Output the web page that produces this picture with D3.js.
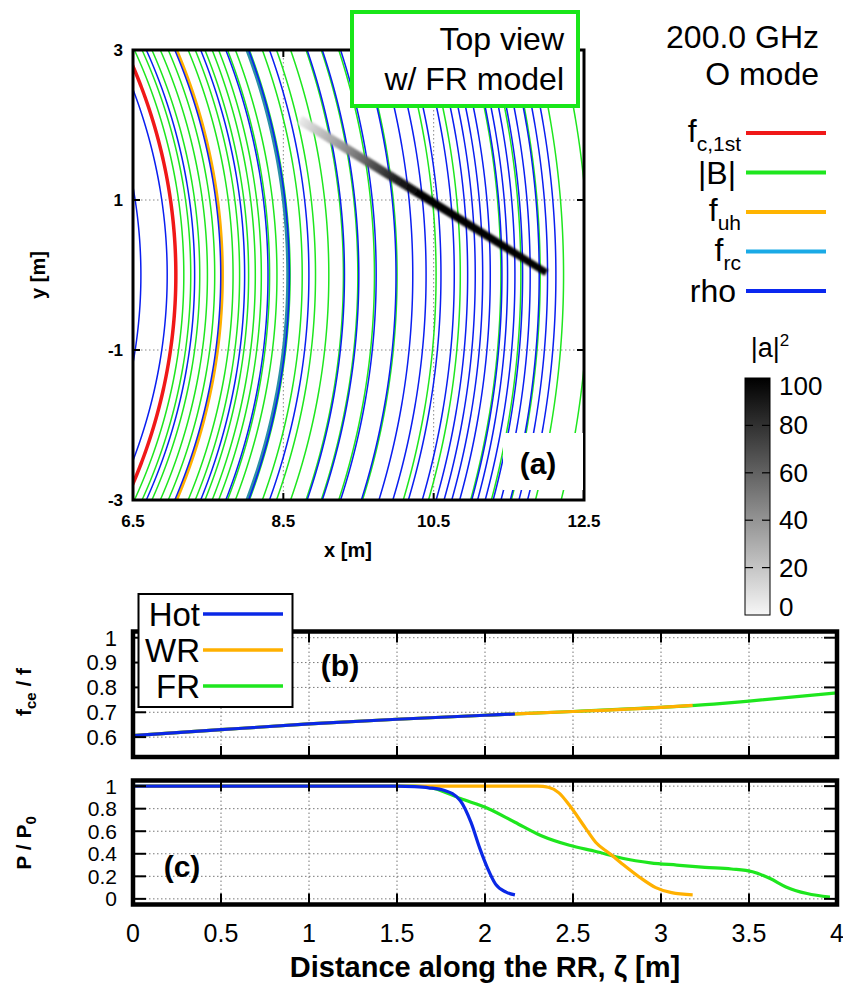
<!DOCTYPE html>
<html><head><meta charset="utf-8">
<script src="https://cdn.jsdelivr.net/npm/d3@7"></script>
<style>body{margin:0;background:#fff}svg{display:block}</style>
</head><body>
<svg id="fig" width="843" height="987"></svg>
<script>
// ---------- Panel (a): top view, contours are circles about the torus axis (radius R in m)
const bContourR = [7.176, 7.268, 7.388, 7.49, 7.587, 7.831, 7.918, 8.038, 8.127, 8.207, 8.317, 8.415,
  8.59, 8.751, 8.928, 9.105, 9.299, 9.491, 9.712, 10.013, 10.532, 10.854, 11.394, 11.66, 11.917, 12.228, 12.56];
const rhoContourR = [6.605, 6.955, 7.32, 7.667, 7.985, 8.296, 8.58, 8.84, 9.313, 9.504, 9.735, 9.999,
  10.222, 10.399, 10.597, 10.774, 10.952, 11.053, 11.152, 11.253, 11.408, 11.483, 11.581, 11.683,
  11.784, 11.904, 12.015, 12.126];
const fc1stR = [7.07];
const fuhR = [7.69];
const frcR = [8.565];
const xTicksA = [6.5, 8.5, 10.5, 12.5];
const yTicksA = [3, 1, -1, -3];

// Ray: launch point and end point (x, y in m), |a|^2 along the path length
const rayLaunch = [12.0, 0.03];
const rayStop = [8.72, 2.07];
const rayZeta = [0, 2.0, 2.4, 2.8, 3.1, 3.4, 3.7, 3.95];
const rayAmp = [100, 100, 88, 66, 48, 32, 18, 4];
const cbTicks = [0, 20, 40, 60, 80, 100];

// Legend of panel (a)
const legendA = [
  {base: "f", sub: "c,1st", color: "#f01818", w: 4},
  {base: "|B|", sub: "", color: "#1ee61e", w: 4},
  {base: "f", sub: "uh", color: "#ffb400", w: 4},
  {base: "f", sub: "rc", color: "#1aaae6", w: 4},
  {base: "rho", sub: "", color: "#0a28f0", w: 4}
];

// ---------- Panel (b): f_ce / f along the ray
const hotZetaB = [0, 0.5, 1.0, 1.5, 2.0, 2.17];
const hotFce   = [0.606, 0.630, 0.653, 0.672, 0.688, 0.693];
const wrZetaB  = [0, 0.5, 1.0, 1.5, 2.0, 2.17, 2.5, 3.0, 3.18];
const wrFce    = [0.606, 0.630, 0.653, 0.672, 0.688, 0.693, 0.703, 0.720, 0.728];
const frZetaB  = [0, 0.5, 1.0, 1.5, 2.0, 2.17, 2.5, 3.0, 3.3, 3.5, 4.0];
const frFce    = [0.606, 0.630, 0.653, 0.672, 0.688, 0.693, 0.703, 0.720, 0.733, 0.745, 0.778];

// ---------- Panel (c): P / P0 along the ray
const hotZetaC = [0, 1.5, 1.6, 1.68, 1.77, 1.86, 1.92, 1.97, 2.015, 2.06, 2.12, 2.17];
const hotP     = [1, 1, 0.995, 0.985, 0.962, 0.87, 0.68, 0.45, 0.27, 0.13, 0.06, 0.035];
const wrZetaC  = [0, 2.3, 2.36, 2.42, 2.48, 2.57, 2.63, 2.71, 2.78, 2.88, 2.97, 3.06, 3.18];
const wrP      = [1, 1, 0.99, 0.94, 0.83, 0.63, 0.5, 0.4, 0.31, 0.19, 0.1, 0.055, 0.035];
const frZetaC  = [0, 1.6, 1.71, 1.86, 2.02, 2.17, 2.32, 2.48, 2.63, 2.78, 2.94, 3.09, 3.25, 3.4, 3.52, 3.62, 3.71, 3.83, 3.96];
const frP      = [1, 1, 0.98, 0.89, 0.80, 0.68, 0.56, 0.475, 0.42, 0.36, 0.32, 0.30, 0.28, 0.265, 0.24, 0.18, 0.106, 0.047, 0.015];

const zetaTicks = [0, 0.5, 1, 1.5, 2, 2.5, 3, 3.5, 4];
const fceTicks = [0.6, 0.7, 0.8, 0.9, 1];
const pTicks = [0, 0.2, 0.4, 0.6, 0.8, 1];
const modelLegend = [
  {name: "Hot", color: "#0a28e6"},
  {name: "WR", color: "#ffb000"},
  {name: "FR", color: "#1ee61e"}
];

const svg = d3.select("#fig");
const defs = svg.append("defs");
const SANS = "'Liberation Sans', Arial, Helvetica, sans-serif";

// ================= Panel (a) =================
const ax = d3.scaleLinear().domain([6.5, 12.5]).range([133, 584]);
const ay = d3.scaleLinear().domain([-3, 3]).range([500, 50]);

defs.append("clipPath").attr("id", "clipA").append("rect")
  .attr("x", 133).attr("y", 50).attr("width", 451).attr("height", 450);

const gA = svg.append("g");
// grid
gA.append("g").selectAll("line").data(xTicksA.slice(1, -1)).join("line")
  .attr("x1", d => ax(d)).attr("x2", d => ax(d)).attr("y1", 50).attr("y2", 500)
  .attr("stroke", "#888").attr("stroke-width", 1).attr("stroke-dasharray", "1.5,2.5");
gA.append("g").selectAll("line").data(yTicksA.slice(1, -1)).join("line")
  .attr("y1", d => ay(d)).attr("y2", d => ay(d)).attr("x1", 133).attr("x2", 584)
  .attr("stroke", "#888").attr("stroke-width", 1).attr("stroke-dasharray", "1.5,2.5");

const arcLine = d3.line().x(d => ax(d[0])).y(d => ay(d[1]));
function arcPoints(R) {
  const pts = [];
  const ym = Math.min(R, 3.2);
  for (let i = 0; i <= 240; i++) {
    const y = -ym + 2 * ym * i / 240;
    pts.push([Math.sqrt(Math.max(R * R - y * y, 0)), y]);
  }
  return pts;
}
const arcs = gA.append("g").attr("clip-path", "url(#clipA)").attr("fill", "none");
function drawArcs(list, color, w) {
  arcs.append("g").selectAll("path").data(list).join("path")
    .attr("d", R => arcLine(arcPoints(R)))
    .attr("stroke", color).attr("stroke-width", w);
}
drawArcs(bContourR, "#1ee61e", 1.5);
drawArcs(fc1stR, "#f01818", 3.5);
drawArcs(fuhR, "#ffb000", 3);
drawArcs(frcR, "#2a90a6", 4);
drawArcs(rhoContourR, "#0a1ef0", 1.5);

// ray (|a|^2 shading along the path)
const gray = d3.scaleLinear().domain([0, 100]).range(["#f6f6f6", "#000000"]);
const p0 = [ax(rayLaunch[0]), ay(rayLaunch[1])];
const p1 = [ax(rayStop[0]), ay(rayStop[1])];
const zMax = rayZeta[rayZeta.length - 1];
const grad = defs.append("linearGradient").attr("id", "rayGrad")
  .attr("gradientUnits", "userSpaceOnUse")
  .attr("x1", p0[0]).attr("y1", p0[1]).attr("x2", p1[0]).attr("y2", p1[1]);
grad.selectAll("stop").data(rayZeta).join("stop")
  .attr("offset", d => d / zMax)
  .attr("stop-color", (d, i) => gray(rayAmp[i]));
defs.append("filter").attr("id", "soft").attr("x", "-10%").attr("y", "-10%").attr("width", "120%").attr("height", "120%")
  .append("feGaussianBlur").attr("stdDeviation", 1.0);
{
  const dx = p1[0] - p0[0], dy = p1[1] - p0[1];
  const L = Math.hypot(dx, dy);
  const nx = -dy / L, ny = dx / L;
  const w0 = 3.6, w1 = 4.6;
  const poly = [
    [p0[0] + nx * w0, p0[1] + ny * w0], [p1[0] + nx * w1, p1[1] + ny * w1],
    [p1[0] - nx * w1, p1[1] - ny * w1], [p0[0] - nx * w0, p0[1] - ny * w0]
  ];
  gA.append("path").attr("d", "M" + poly.map(p => p.join(",")).join("L") + "Z")
    .attr("fill", "url(#rayGrad)").attr("filter", "url(#soft)");
}

// frame and ticks
gA.append("rect").attr("x", 133).attr("y", 50).attr("width", 451).attr("height", 450)
  .attr("fill", "none").attr("stroke", "#000").attr("stroke-width", 3);
const tk = gA.append("g").attr("stroke", "#000").attr("stroke-width", 2);
xTicksA.forEach(v => {
  tk.append("line").attr("x1", ax(v)).attr("x2", ax(v)).attr("y1", 500).attr("y2", 493);
  tk.append("line").attr("x1", ax(v)).attr("x2", ax(v)).attr("y1", 50).attr("y2", 57);
});
yTicksA.forEach(v => {
  tk.append("line").attr("y1", ay(v)).attr("y2", ay(v)).attr("x1", 133).attr("x2", 140);
  tk.append("line").attr("y1", ay(v)).attr("y2", ay(v)).attr("x1", 584).attr("x2", 577);
});
gA.append("g").selectAll("text").data(xTicksA).join("text")
  .attr("x", d => ax(d)).attr("y", 527).attr("text-anchor", "middle")
  .attr("font-family", SANS).attr("font-weight", "bold").attr("font-size", 17).text(d => d.toFixed(1));
gA.append("g").selectAll("text").data(yTicksA).join("text")
  .attr("x", 123).attr("y", d => ay(d) + 6).attr("text-anchor", "end")
  .attr("font-family", SANS).attr("font-weight", "bold").attr("font-size", 17).text(d => d);
gA.append("text").attr("x", 348).attr("y", 557).attr("text-anchor", "middle")
  .attr("font-family", SANS).attr("font-weight", "bold").attr("font-size", 20).text("x [m]");
gA.append("text").attr("transform", "translate(45,275) rotate(-90)").attr("text-anchor", "middle")
  .attr("font-family", SANS).attr("font-weight", "bold").attr("font-size", 20).text("y [m]");

// title box
gA.append("rect").attr("x", 352).attr("y", 12).attr("width", 226).attr("height", 94)
  .attr("fill", "#fff").attr("stroke", "#19e619").attr("stroke-width", 4);
gA.append("text").attr("x", 564).attr("y", 50).attr("text-anchor", "end")
  .attr("font-family", SANS).attr("font-size", 32).text("Top view");
gA.append("text").attr("x", 564).attr("y", 90).attr("text-anchor", "end")
  .attr("font-family", SANS).attr("font-size", 32).text("w/ FR model");
// panel label
gA.append("rect").attr("x", 503).attr("y", 433).attr("width", 80).attr("height", 57).attr("fill", "#fff");
gA.append("text").attr("x", 538).attr("y", 474).attr("text-anchor", "middle")
  .attr("font-family", SANS).attr("font-weight", "bold").attr("font-size", 30).text("(a)");

// ---------- right-hand legend
svg.append("text").attr("x", 819).attr("y", 48).attr("text-anchor", "end")
  .attr("font-family", SANS).attr("font-size", 32).text("200.0 GHz");
svg.append("text").attr("x", 819).attr("y", 85).attr("text-anchor", "end")
  .attr("font-family", SANS).attr("font-size", 32).text("O mode");
const legRows = svg.append("g").selectAll("g").data(legendA).join("g")
  .attr("transform", (d, i) => `translate(0,${133 + i * 39.5})`);
legRows.append("line").attr("x1", 746).attr("x2", 826).attr("y1", 0).attr("y2", 0)
  .attr("stroke", d => d.color).attr("stroke-width", d => d.w);
legRows.each(function (d) {
  const t = d3.select(this).append("text").attr("x", d.sub ? 741 : 736).attr("y", d.sub ? 9 : 11)
    .attr("text-anchor", "end").attr("font-family", SANS).attr("font-size", 32);
  t.append("tspan").text(d.base);
  if (d.sub) t.append("tspan").attr("font-size", 21).attr("dy", 9).text(d.sub);
});

// ---------- colour bar for |a|^2
const cbY = d3.scaleLinear().domain([0, 100]).range([615, 378]);
const cbGrad = defs.append("linearGradient").attr("id", "cbGrad")
  .attr("x1", 0).attr("y1", 1).attr("x2", 0).attr("y2", 0);
cbGrad.selectAll("stop").data(cbTicks).join("stop")
  .attr("offset", d => d / 100).attr("stop-color", d => gray(d));
svg.append("rect").attr("x", 745).attr("y", cbY(100)).attr("width", 25).attr("height", cbY(0) - cbY(100))
  .attr("fill", "url(#cbGrad)").attr("stroke", "#000").attr("stroke-width", 1);
const cbT = svg.append("g").attr("stroke", "#000").attr("stroke-width", 1.2);
cbTicks.slice(1, -1).forEach(v => {
  cbT.append("line").attr("x1", 745).attr("x2", 753).attr("y1", cbY(v)).attr("y2", cbY(v));
  cbT.append("line").attr("x1", 762).attr("x2", 770).attr("y1", cbY(v)).attr("y2", cbY(v));
});
svg.append("g").selectAll("text").data(cbTicks).join("text")
  .attr("x", 779).attr("y", d => Math.min(Math.max(cbY(d), 386), 607) + 9)
  .attr("font-family", SANS).attr("font-size", 26).text(d => d);
{
  const t = svg.append("text").attr("x", 770).attr("y", 357).attr("text-anchor", "middle")
    .attr("font-family", SANS).attr("font-size", 27);
  t.append("tspan").text("|a|");
  t.append("tspan").attr("font-size", 17).attr("dy", -11).text("2");
}

// ================= Panels (b) and (c) =================
const bx = d3.scaleLinear().domain([0, 4]).range([133, 837]);
const byS = d3.scaleLinear().domain([0.52, 1.025]).range([757, 631.5]);
const cyS = d3.scaleLinear().domain([-0.05, 1.05]).range([904.5, 780.5]);

function framePanel(id, yS, yTicks, top, bottom, fmt, fs) {
  const g = svg.append("g");
  defs.append("clipPath").attr("id", id).append("rect")
    .attr("x", 133).attr("y", top).attr("width", 704).attr("height", bottom - top);
  // grid
  g.append("g").selectAll("line").data(zetaTicks.slice(1, -1)).join("line")
    .attr("x1", d => bx(d)).attr("x2", d => bx(d)).attr("y1", top).attr("y2", bottom)
    .attr("stroke", "#777").attr("stroke-width", 1).attr("stroke-dasharray", "1.5,2.5");
  g.append("g").selectAll("line").data(yTicks).join("line")
    .attr("y1", d => yS(d)).attr("y2", d => yS(d)).attr("x1", 133).attr("x2", 837)
    .attr("stroke", "#777").attr("stroke-width", 1).attr("stroke-dasharray", "1.5,2.5");
  // tick labels
  g.append("g").selectAll("text").data(yTicks).join("text")
    .attr("x", 117).attr("y", d => yS(d) + fs * 0.36).attr("text-anchor", "end")
    .attr("font-family", SANS).attr("font-size", fs).text(fmt);
  return g;
}
function finishPanel(g, yS, yTicks, top, bottom) {
  g.append("rect").attr("x", 133).attr("y", top).attr("width", 704).attr("height", bottom - top)
    .attr("fill", "none").attr("stroke", "#000").attr("stroke-width", 4.5);
  const t = g.append("g").attr("stroke", "#000").attr("stroke-width", 2);
  zetaTicks.forEach(v => {
    t.append("line").attr("x1", bx(v)).attr("x2", bx(v)).attr("y1", bottom).attr("y2", bottom - 11);
    t.append("line").attr("x1", bx(v)).attr("x2", bx(v)).attr("y1", top).attr("y2", top + 11);
  });
  yTicks.forEach(v => {
    t.append("line").attr("y1", yS(v)).attr("y2", yS(v)).attr("x1", 133).attr("x2", 146);
    t.append("line").attr("y1", yS(v)).attr("y2", yS(v)).attr("x1", 837).attr("x2", 824);
  });
}

// (b)
const gB = framePanel("clipB", byS, fceTicks, 631.5, 757, d => d === 1 ? "1" : d.toFixed(1), 22);
const lineB = d3.line().curve(d3.curveMonotoneX).x(d => bx(d[0])).y(d => byS(d[1]));
const linesB = gB.append("g").attr("clip-path", "url(#clipB)").attr("fill", "none").attr("stroke-width", 3.2);
linesB.append("path").attr("d", lineB(d3.zip(frZetaB, frFce))).attr("stroke", modelLegend[2].color);
linesB.append("path").attr("d", lineB(d3.zip(wrZetaB, wrFce))).attr("stroke", modelLegend[1].color);
linesB.append("path").attr("d", lineB(d3.zip(hotZetaB, hotFce))).attr("stroke", modelLegend[0].color);
gB.append("text").attr("x", 340).attr("y", 676).attr("text-anchor", "middle")
  .attr("font-family", SANS).attr("font-weight", "bold").attr("font-size", 30).text("(b)");
finishPanel(gB, byS, fceTicks, 631.5, 757);
{
  const t = svg.append("text").attr("transform", "translate(31,692) rotate(-90)").attr("text-anchor", "middle")
    .attr("font-family", SANS).attr("font-weight", "bold").attr("font-size", 21);
  t.append("tspan").text("f");
  t.append("tspan").attr("font-size", 15).attr("dy", 5).text("ce");
  t.append("tspan").attr("dy", -5).text(" / f");
}
// legend of (b)
const lg = svg.append("g");
lg.append("rect").attr("x", 138.5).attr("y", 594).attr("width", 154).attr("height", 113)
  .attr("fill", "#fff").attr("stroke", "#000").attr("stroke-width", 2);
const lgRows = lg.selectAll("g.row").data(modelLegend).join("g").attr("class", "row")
  .attr("transform", (d, i) => `translate(0,${614 + i * 36})`);
lgRows.append("line").attr("x1", 203).attr("x2", 283).attr("y1", 0).attr("y2", 0)
  .attr("stroke", d => d.color).attr("stroke-width", 3.5);
lgRows.append("text").attr("x", 200).attr("y", 12).attr("text-anchor", "end")
  .attr("font-family", SANS).attr("font-size", 33).text(d => d.name);

// (c)
const gC = framePanel("clipC", cyS, pTicks, 780.5, 904.5, d => d === 0 || d === 1 ? String(d) : d.toFixed(1), 21);
const lineC = d3.line().curve(d3.curveMonotoneX).x(d => bx(d[0])).y(d => cyS(d[1]));
const linesC = gC.append("g").attr("clip-path", "url(#clipC)").attr("fill", "none").attr("stroke-width", 3.2);
linesC.append("path").attr("d", lineC(d3.zip(frZetaC, frP))).attr("stroke", modelLegend[2].color);
linesC.append("path").attr("d", lineC(d3.zip(wrZetaC, wrP))).attr("stroke", modelLegend[1].color);
linesC.append("path").attr("d", lineC(d3.zip(hotZetaC, hotP))).attr("stroke", modelLegend[0].color);
gC.append("text").attr("x", 182).attr("y", 877).attr("text-anchor", "middle")
  .attr("font-family", SANS).attr("font-weight", "bold").attr("font-size", 30).text("(c)");
finishPanel(gC, cyS, pTicks, 780.5, 904.5);
{
  const t = svg.append("text").attr("transform", "translate(31,843) rotate(-90)").attr("text-anchor", "middle")
    .attr("font-family", SANS).attr("font-weight", "bold").attr("font-size", 21);
  t.append("tspan").text("P / P");
  t.append("tspan").attr("font-size", 15).attr("dy", 5).text("0");
}
svg.append("g").selectAll("text").data(zetaTicks).join("text")
  .attr("x", d => bx(d)).attr("y", 942).attr("text-anchor", "middle")
  .attr("font-family", SANS).attr("font-size", 25).text(d => d);
svg.append("text").attr("x", 485).attr("y", 977).attr("text-anchor", "middle")
  .attr("font-family", SANS).attr("font-weight", "bold").attr("font-size", 29)
  .text("Distance along the RR, ζ [m]");
</script>
</body></html>
